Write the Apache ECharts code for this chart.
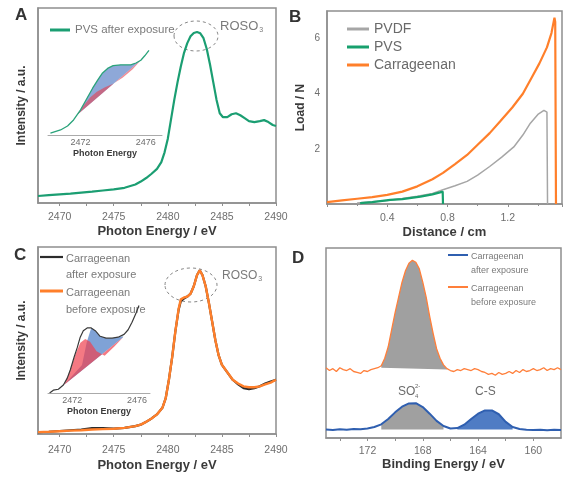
<!DOCTYPE html>
<html>
<head>
<meta charset="utf-8">
<script src="https://cdn.jsdelivr.net/npm/echarts@6/dist/echarts.min.js"></script>
<style>
  html, body { margin: 0; padding: 0; background: #fff; }
  #chart { width: 563px; height: 479px; }
</style>
</head>
<body>
<div id="chart"></div>
<script>
// ---- panel A: S K-edge XANES, PVS after exposure
var pvsXanes = [[2468,0.036],[2469,0.040],[2470,0.044],[2471,0.048],[2472,0.053],[2473,0.058],[2474,0.064],[2475,0.070],[2476,0.078],[2477,0.095],[2477.5,0.11],[2478,0.128],[2478.5,0.15],[2479,0.175],[2479.4,0.21],[2479.7,0.26],[2480,0.33],[2480.3,0.43],[2480.6,0.53],[2480.9,0.62],[2481.2,0.70],[2481.5,0.77],[2481.8,0.82],[2482.1,0.855],[2482.4,0.872],[2482.7,0.877],[2483,0.87],[2483.3,0.845],[2483.6,0.79],[2483.9,0.71],[2484.2,0.62],[2484.5,0.53],[2484.8,0.46],[2485.1,0.44],[2485.5,0.44],[2485.9,0.455],[2486.3,0.46],[2486.7,0.45],[2487.1,0.435],[2487.5,0.42],[2488,0.415],[2488.5,0.42],[2488.9,0.425],[2489.3,0.415],[2489.7,0.40],[2490,0.395]];
var pvsInset = [[2470.15,0.02],[2470.77,0.056],[2471.2,0.1],[2471.57,0.167],[2472.0,0.28],[2472.43,0.42],[2472.74,0.52],[2473.05,0.61],[2473.35,0.69],[2473.66,0.74],[2474.0,0.77],[2474.46,0.78],[2474.77,0.78],[2475.08,0.78],[2475.4,0.80],[2475.7,0.83],[2475.94,0.88],[2476.2,0.94]];
var pvsInsetBg = [[2471.8,0.225],[2475.7,0.83]];
var pvsInsetRed = [[2471.8,0.225],[2472.2,0.33],[2472.6,0.42],[2473.0,0.48],[2473.5,0.53],[2474.0,0.57],[2474.6,0.64],[2475.2,0.73],[2475.7,0.83]];

// ---- panel B: tensile test
var pvdfLoad = [[0.2,0.04],[0.3,0.08],[0.4,0.13],[0.5,0.2],[0.6,0.28],[0.7,0.38],[0.77,0.52],[0.85,0.66],[0.93,0.82],[1.0,1.05],[1.08,1.36],[1.16,1.7],[1.24,2.07],[1.3,2.5],[1.35,2.93],[1.4,3.25],[1.44,3.4],[1.46,3.33],[1.464,0]];
var pvsLoad = [[0.22,0.03],[0.3,0.07],[0.42,0.15],[0.5,0.18],[0.62,0.27],[0.7,0.35],[0.75,0.42],[0.768,0.45],[0.77,0]];
var carraLoad = [[0,0.07],[0.1,0.13],[0.2,0.19],[0.3,0.25],[0.4,0.33],[0.5,0.45],[0.6,0.64],[0.7,0.9],[0.77,1.13],[0.85,1.45],[0.93,1.78],[1.0,2.15],[1.08,2.57],[1.15,3.0],[1.23,3.5],[1.3,4.0],[1.36,4.6],[1.41,5.1],[1.46,5.68],[1.49,6.2],[1.51,6.76],[1.515,6.6],[1.52,0]];

// ---- panel C: XANES, carrageenan before / after
var carraBefore = [[2468,0.010],[2469,0.012],[2470,0.015],[2471,0.018],[2472,0.020],[2473,0.024],[2474,0.026],[2475,0.028],[2476,0.033],[2477,0.042],[2477.5,0.05],[2478,0.065],[2478.5,0.083],[2479,0.105],[2479.5,0.14],[2479.8,0.19],[2480.1,0.29],[2480.4,0.41],[2480.7,0.55],[2481,0.67],[2481.2,0.72],[2481.5,0.73],[2481.8,0.735],[2482.1,0.75],[2482.4,0.79],[2482.7,0.85],[2482.95,0.875],[2483.2,0.85],[2483.5,0.79],[2483.8,0.70],[2484.1,0.60],[2484.4,0.50],[2484.7,0.42],[2485,0.37],[2485.5,0.33],[2486,0.29],[2486.5,0.27],[2487,0.255],[2487.5,0.25],[2488,0.25],[2488.5,0.255],[2489,0.265],[2489.5,0.275],[2490,0.29]];
var carraAfter = [[2468,0.010],[2469,0.012],[2470,0.016],[2471,0.020],[2472,0.024],[2473,0.031],[2474,0.031],[2475,0.029],[2476,0.033],[2477,0.042],[2477.5,0.05],[2478,0.065],[2478.5,0.083],[2479,0.105],[2479.5,0.14],[2479.8,0.19],[2480.1,0.29],[2480.4,0.41],[2480.7,0.55],[2481,0.665],[2481.2,0.71],[2481.5,0.725],[2481.8,0.735],[2482.1,0.75],[2482.4,0.79],[2482.7,0.85],[2482.95,0.875],[2483.2,0.85],[2483.5,0.79],[2483.8,0.70],[2484.1,0.60],[2484.4,0.50],[2484.7,0.42],[2485,0.37],[2485.5,0.33],[2486,0.29],[2486.5,0.265],[2487,0.245],[2487.5,0.24],[2488,0.245],[2488.5,0.255],[2489,0.27],[2489.5,0.28],[2490,0.29]];
var carraInset = [[2470.6,0.0],[2470.83,0.03],[2471.14,0.04],[2471.45,0.086],[2471.69,0.16],[2471.88,0.25],[2472.12,0.39],[2472.31,0.49],[2472.49,0.60],[2472.68,0.67],[2472.92,0.70],[2473.17,0.70],[2473.42,0.67],[2473.72,0.61],[2474.09,0.59],[2474.46,0.59],[2474.83,0.60],[2475.2,0.63],[2475.45,0.68],[2475.69,0.76],[2475.94,0.86],[2476.12,0.94]];
var carraInsetBg = [[2471.5,0.09],[2475.14,0.60]];
var carraInsetRed = [[2471.5,0.09],[2471.9,0.26],[2472.2,0.42],[2472.5,0.54],[2472.8,0.58],[2473.1,0.55],[2473.5,0.45],[2474.0,0.40],[2474.6,0.50],[2475.14,0.60]];
var carraInsetBlue = [[2472.6,0.30],[2472.9,0.55],[2473.17,0.70],[2473.42,0.67],[2473.72,0.61],[2474.09,0.59],[2474.46,0.59],[2474.83,0.60],[2475.14,0.61]];

// ---- panel D: XPS S 2p
var xpsBefore = [[175,0.37],[174.75,0.355],[174.5,0.365],[174.25,0.35],[174,0.37],[173.75,0.36],[173.5,0.355],[173.25,0.365],[173,0.35],[172.75,0.345],[172.5,0.34],[172.25,0.355],[172,0.35],[171.75,0.36],[171.5,0.365],[171.25,0.37],[171,0.38],[170.75,0.42],[170.5,0.48],[170.25,0.57],[170,0.66],[169.75,0.74],[169.5,0.82],[169.25,0.88],[169,0.92],[168.75,0.935],[168.5,0.925],[168.25,0.89],[168,0.82],[167.75,0.74],[167.5,0.64],[167.25,0.55],[167,0.47],[166.75,0.42],[166.5,0.385],[166.25,0.365],[166,0.355],[165.75,0.35],[165.5,0.36],[165.25,0.355],[165,0.365],[164.75,0.36],[164.5,0.355],[164.25,0.365],[164,0.36],[163.75,0.35],[163.5,0.345],[163.25,0.335],[163,0.34],[162.75,0.33],[162.5,0.345],[162.25,0.335],[162,0.34],[161.75,0.35],[161.5,0.34],[161.25,0.355],[161,0.345],[160.75,0.36],[160.5,0.35],[160.25,0.355],[160,0.365],[159.75,0.355],[159.5,0.36],[159.25,0.37],[159,0.355],[158.75,0.365],[158.5,0.36],[158.25,0.37],[158,0.36]];
var xpsAfter = [[175,0.045],[174.5,0.042],[174,0.046],[173.5,0.043],[173,0.047],[172.5,0.046],[172,0.05],[171.5,0.058],[171,0.072],[170.5,0.1],[170,0.135],[169.5,0.165],[169,0.182],[168.5,0.183],[168,0.163],[167.5,0.128],[167,0.09],[166.5,0.063],[166,0.05],[165.5,0.052],[165,0.07],[164.5,0.1],[164,0.128],[163.5,0.145],[163,0.145],[162.5,0.125],[162,0.085],[161.5,0.058],[161,0.047],[160.5,0.043],[160,0.042],[159.5,0.044],[159,0.041],[158.5,0.043],[158,0.042]];

// ---- tick labels
var xanesLabels = [2470, 2475, 2480, 2485, 2490];
var xanesTicks = [2470, 2472.5, 2475, 2477.5, 2480, 2482.5, 2485, 2487.5, 2490];
var insetLabels = [2472, 2476];
var xpsLabels = [160, 164, 168, 172];
var xpsTicks = [160, 162, 164, 166, 168, 170, 172, 174];
var loadLabels = [2, 4, 6];
var distLabels = [0.4, 0.8, 1.2];

var FONT = 'Liberation Sans';
var FRAME = '#8f8f8f';

function plain(v) { return String(v); }

function range(arr, a, b) {
  return arr.filter(function (p) { return p[0] >= Math.min(a, b) && p[0] <= Math.max(a, b); });
}

function fillBetween(top, bottom, color, idx, opacity) {
  return {
    type: 'custom', xAxisIndex: idx, yAxisIndex: idx, silent: true, z: 1,
    data: [top[0]],
    renderItem: function (params, api) {
      var pts = top.concat(bottom.slice().reverse()).map(function (p) { return api.coord(p); });
      return { type: 'polygon', shape: { points: pts }, style: { fill: color, opacity: opacity == null ? 1 : opacity } };
    }
  };
}

function line(name, data, idx, color, width) {
  return {
    name: name, type: 'line', xAxisIndex: idx, yAxisIndex: idx, data: data,
    symbol: 'none', z: 3, color: color,
    lineStyle: { color: color, width: width }
  };
}

function mainX(idx, min, max, name, gap, margin, labels, ticks, extra) {
  var ax = {
    gridIndex: idx, type: 'value', min: min, max: max,
    name: name, nameLocation: 'middle', nameGap: gap,
    nameTextStyle: { fontFamily: FONT, fontWeight: 'bold', fontSize: 13, color: '#3a3a3a' },
    axisLine: { lineStyle: { color: FRAME, width: 1.5 } },
    axisTick: { length: 3, lineStyle: { color: FRAME }, customValues: ticks },
    axisLabel: { fontFamily: FONT, fontSize: 10.5, color: '#6e6e6e', margin: margin, customValues: labels, formatter: plain },
    splitLine: { show: false }
  };
  return Object.assign(ax, extra || {});
}

function plainY(idx, name, gap) {
  return {
    gridIndex: idx, type: 'value', min: 0, max: 1,
    name: name, nameLocation: 'middle', nameGap: gap,
    nameTextStyle: { fontFamily: FONT, fontWeight: 'bold', fontSize: 12, color: '#3a3a3a' },
    axisLine: { show: !!name, lineStyle: { color: FRAME, width: 1.5 } },
    axisTick: { show: false }, axisLabel: { show: false }, splitLine: { show: false }
  };
}

function insetX(idx, min, max) {
  return {
    gridIndex: idx, type: 'value', min: min, max: max,
    name: 'Photon Energy', nameLocation: 'middle', nameGap: 14,
    nameTextStyle: { fontFamily: FONT, fontWeight: 'bold', fontSize: 9, color: '#3a3a3a' },
    axisLine: { lineStyle: { color: '#aaa', width: 1 } },
    axisTick: { show: false },
    axisLabel: { fontFamily: FONT, fontSize: 9, color: '#6e6e6e', margin: 3, customValues: insetLabels, formatter: plain },
    splitLine: { show: false }
  };
}

function box(left, top, width, height, framed) {
  return {
    left: left, top: top, width: width, height: height, outerBoundsMode: 'none', containLabel: false,
    show: !!framed, borderColor: FRAME, borderWidth: 1.5
  };
}

var grids = [
  box(38, 8, 238, 195, true),
  box(48, 45, 114, 90),
  box(327, 11, 235, 193, true),
  box(38, 247, 238, 187, true),
  box(48, 300, 102, 93),
  box(326, 248, 235, 190, true)
];

var chart = echarts.init(document.getElementById('chart'));

chart.setOption({
  animation: false,
  backgroundColor: '#fff',
  grid: grids,
  xAxis: [
    mainX(0, 2468, 2490, 'Photon Energy / eV', 22, 9, xanesLabels, xanesTicks),
    insetX(1, 2470, 2477),
    mainX(2, 0, 1.56, 'Distance / cm', 22, 9, distLabels, null, {
      interval: 0.4,
      minorTick: { show: true, splitNumber: 2, length: 2, lineStyle: { color: FRAME } }
    }),
    mainX(3, 2468, 2490, 'Photon Energy / eV', 25, 11, xanesLabels, xanesTicks),
    insetX(4, 2470.5, 2476.8),
    mainX(5, 158, 175, 'Binding Energy / eV', 20, 8, xpsLabels, xpsTicks, { inverse: true })
  ],
  yAxis: [
    plainY(0, 'Intensity / a.u.', 10),
    plainY(1, '', 0),
    {
      gridIndex: 2, type: 'value', min: 0, max: 7, interval: 2,
      name: 'Load / N', nameLocation: 'middle', nameGap: 20,
      nameTextStyle: { fontFamily: FONT, fontWeight: 'bold', fontSize: 12, color: '#3a3a3a' },
      axisLine: { lineStyle: { color: FRAME, width: 1.5 } },
      axisTick: { show: false },
      axisLabel: { fontFamily: FONT, fontSize: 10, color: '#6e6e6e', margin: 7, customValues: loadLabels, formatter: plain },
      splitLine: { show: false }
    },
    plainY(3, 'Intensity / a.u.', 10),
    plainY(4, '', 0),
    plainY(5, '', 0)
  ],
  legend: [
    {
      data: ['PVS after exposure'], left: 45, top: 19, itemGap: 5,
      icon: 'rect', itemWidth: 20, itemHeight: 3,
      textStyle: { fontFamily: FONT, fontSize: 11.5, color: '#7a7a7a' }
    },
    {
      data: ['PVDF', 'PVS', 'Carrageenan'], orient: 'vertical', left: 342, top: 17,
      icon: 'rect', itemWidth: 22, itemHeight: 3, itemGap: 4,
      textStyle: { fontFamily: FONT, fontSize: 14, color: '#6a6a6a' }
    }
  ],
  series: [
    // A
    line('PVS after exposure', pvsXanes, 0, '#1b9e72', 2.2),
    fillBetween(range(pvsInset, 2471.8, 2475.7), pvsInsetBg, '#8ea8d8', 1, 1),
    fillBetween(pvsInsetRed, pvsInsetBg, '#e8404f', 1, 0.6),
    line('PVS inset', pvsInset, 1, '#2aa37a', 1.3),
    // B
    line('PVDF', pvdfLoad, 2, '#a6a6a6', 1.5),
    line('Carrageenan', carraLoad, 2, '#ff7f2a', 2.2),
    line('PVS', pvsLoad, 2, '#17a06d', 2.2),
    // C
    line('Carrageenan after exposure', carraAfter, 3, '#2b2b2b', 2.2),
    line('Carrageenan before exposure', carraBefore, 3, '#ff7f2a', 2.4),
    fillBetween(carraInsetBlue, carraInsetBg, '#7fa2d6', 4, 1),
    fillBetween(carraInsetRed, carraInsetBg, '#f0404f', 4, 0.7),
    line('Carrageenan inset', carraInset, 4, '#3a3a3a', 1.2),
    // D
    fillBetween(range(xpsBefore, 171, 166.25), [[171, 0.37], [166.25, 0.36]], '#a0a0a0', 5, 1),
    fillBetween(range(xpsAfter, 171, 166.5), [[171, 0.045], [166.5, 0.045]], '#a0a0a0', 5, 1),
    fillBetween(range(xpsAfter, 165.5, 161.5), [[165.5, 0.045], [161.5, 0.045]], '#4f7cc4', 5, 1),
    line('XPS after', xpsAfter, 5, '#2f5fb0', 2),
    line('XPS before', xpsBefore, 5, '#ff7f3a', 1.3)
  ],
  graphic: [
    { type: 'text', left: 15, top: 7, style: { text: 'A', font: 'bold 17px Liberation Sans', fill: '#333' } },
    { type: 'text', left: 289, top: 9, style: { text: 'B', font: 'bold 17px Liberation Sans', fill: '#333' } },
    { type: 'text', left: 14, top: 247, style: { text: 'C', font: 'bold 17px Liberation Sans', fill: '#333' } },
    { type: 'text', left: 292, top: 250, style: { text: 'D', font: 'bold 17px Liberation Sans', fill: '#333' } },
    // A annotations
    { type: 'ellipse', shape: { cx: 196, cy: 36, rx: 22, ry: 15 }, style: { fill: 'none', stroke: '#888', lineWidth: 1, lineDash: [3, 3] } },
    { type: 'text', x: 220, y: 19, style: { text: 'ROSO{s|3}', font: '13px Liberation Sans', fill: '#7a7a7a',
      rich: { s: { fontSize: 7, fill: '#7a7a7a', padding: [8, 0, 0, 1] } } } },
    // C annotations
    { type: 'ellipse', shape: { cx: 191, cy: 285, rx: 26, ry: 17 }, style: { fill: 'none', stroke: '#888', lineWidth: 1, lineDash: [3, 3] } },
    { type: 'text', x: 222, y: 268, style: { text: 'ROSO{s|3}', font: '12px Liberation Sans', fill: '#7a7a7a',
      rich: { s: { fontSize: 7, fill: '#7a7a7a', padding: [8, 0, 0, 1] } } } },
    // C legend
    { type: 'line', shape: { x1: 40, y1: 257, x2: 63, y2: 257 }, style: { stroke: '#2b2b2b', lineWidth: 2.2 } },
    { type: 'text', x: 66, y: 251, style: { text: 'Carrageenan\nafter exposure', font: '11px Liberation Sans', fill: '#7a7a7a', lineHeight: 16 } },
    { type: 'line', shape: { x1: 40, y1: 291, x2: 63, y2: 291 }, style: { stroke: '#ff7f2a', lineWidth: 3 } },
    { type: 'text', x: 66, y: 284, style: { text: 'Carrageenan\nbefore exposure', font: '11px Liberation Sans', fill: '#7a7a7a', lineHeight: 17 } },
    // D legend
    { type: 'line', shape: { x1: 448, y1: 255, x2: 468, y2: 255 }, style: { stroke: '#2f5fb0', lineWidth: 2 } },
    { type: 'text', x: 471, y: 250, style: { text: 'Carrageenan\nafter exposure', font: '9px Liberation Sans', fill: '#7a7a7a', lineHeight: 14 } },
    { type: 'line', shape: { x1: 448, y1: 287, x2: 468, y2: 287 }, style: { stroke: '#ff7f3a', lineWidth: 2 } },
    { type: 'text', x: 471, y: 282, style: { text: 'Carrageenan\nbefore exposure', font: '9px Liberation Sans', fill: '#7a7a7a', lineHeight: 14 } },
    // D peak labels
    { type: 'text', x: 398, y: 386, style: { text: 'SO', font: '12px Liberation Sans', fill: '#6a6a6a' } },
    { type: 'text', x: 415, y: 383, style: { text: '2-', font: '6px Liberation Sans', fill: '#6a6a6a' } },
    { type: 'text', x: 415, y: 393, style: { text: '4', font: '6px Liberation Sans', fill: '#6a6a6a' } },
    { type: 'text', x: 475, y: 386, style: { text: 'C-S', font: '12px Liberation Sans', fill: '#6a6a6a' } }
  ]
});
</script>
</body>
</html>
